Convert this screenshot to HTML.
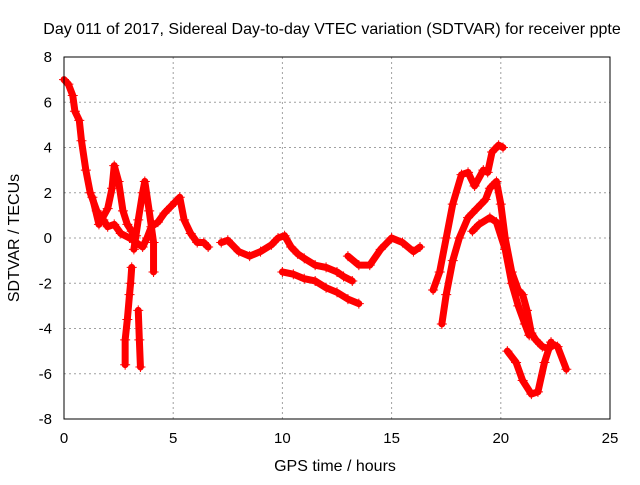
<!DOCTYPE html>
<html><head><meta charset="utf-8"><style>
body{margin:0;background:#fff}
svg text{font-family:"Liberation Sans",sans-serif;fill:#000}
</style></head><body>
<svg id="c" width="640" height="480" xmlns="http://www.w3.org/2000/svg">
<rect width="640" height="480" fill="#fff"/>
<text x="332" y="34" font-size="16" text-anchor="middle">Day 011 of 2017, Sidereal Day-to-day VTEC variation (SDTVAR) for receiver ppte</text>
<text x="335" y="471" font-size="16" text-anchor="middle">GPS time / hours</text>
<text x="19" y="238" font-size="16" text-anchor="middle" transform="rotate(-90 19 238)">SDTVAR / TECUs</text>
<g id="grid"></g><g id="marks"></g>
<rect x="64" y="57" width="546" height="362" fill="none" stroke="#000" stroke-width="1"/>
</svg>
<script>
const xTicks=[0,5,10,15,20,25];
const yTicks=[-8,-6,-4,-2,0,2,4,6,8];
const trackMain=[[0,7],[0.2,6.8],[0.4,6.3],[0.5,5.6],[0.7,5.2],[0.8,4.3],[1.0,3],[1.2,2],[1.5,1.2],[1.8,0.8],[2.0,0.5],[2.3,0.6],[2.6,0.2],[3.0,0],[3.3,-0.2],[3.6,-0.4],[3.8,0],[4.0,0.5],[4.3,0.7],[4.6,1.1],[4.9,1.4],[5.1,1.6],[5.3,1.8],[5.5,0.8],[5.8,0.2],[6.1,-0.2],[6.4,-0.2],[6.6,-0.4]];
const trackSpikeA=[[1.3,1.8],[1.6,0.6],[2.0,1.3],[2.2,2.2],[2.3,3.2],[2.5,2.5],[2.7,1.2],[2.9,0.6],[3.1,0.3],[3.3,0.1]];
const trackSpikeB=[[3.2,-0.5],[3.4,0.8],[3.6,2.0],[3.7,2.5],[3.9,1.2],[4.1,-0.2],[4.1,-1.5]];
const trackDropA=[[2.8,-5.6],[2.8,-4.5],[2.9,-3.6],[3.0,-2.5],[3.05,-2],[3.1,-1.3]];
const trackDropB=[[3.5,-5.7],[3.45,-4.5],[3.4,-3.2]];
const trackMid=[[7.2,-0.2],[7.5,-0.1],[8,-0.6],[8.5,-0.8],[9,-0.6],[9.5,-0.3],[9.8,0],[10.1,0.1],[10.4,-0.4],[10.7,-0.7],[11,-0.9],[11.5,-1.2],[12,-1.3],[12.5,-1.5],[12.8,-1.7],[13.2,-1.9]];
const trackMidLow=[[10,-1.5],[10.5,-1.6],[11,-1.8],[11.5,-1.9],[12,-2.2],[12.5,-2.4],[13,-2.7],[13.5,-2.9]];
const trackLate=[[13,-0.8],[13.5,-1.2],[14,-1.2],[14.5,-0.5],[15,0],[15.5,-0.2],[16,-0.6],[16.3,-0.4]];
const trackRiseA=[[16.9,-2.3],[17.2,-1.5],[17.5,0],[17.8,1.5],[18.2,2.8],[18.5,2.9],[18.8,2.3],[19.2,3],[19.4,2.9],[19.6,3.8],[19.9,4.1],[20.1,4.0]];
const trackRiseB=[[17.3,-3.8],[17.5,-2.5],[17.8,-1],[18.1,0],[18.5,0.9],[18.9,1.3],[19.3,1.7],[19.5,2.2],[19.8,2.5],[20.0,1.5],[20.2,0],[20.5,-1.5],[20.8,-2.3],[21.0,-2.5],[21.2,-3.2],[21.4,-4.2],[21.6,-4.5],[21.9,-4.8],[22.2,-4.9],[22.4,-4.7],[22.6,-4.8],[23,-5.8]];
const trackRiseC=[[18.7,0.3],[19.0,0.6],[19.5,0.9],[19.8,0.7],[20.2,-0.5],[20.5,-2],[20.8,-3],[21.1,-3.8],[21.3,-4.3]];
const trackDip=[[20.3,-5],[20.7,-5.5],[21,-6.3],[21.4,-6.9],[21.7,-6.8],[22,-5.5],[22.3,-4.6]];
const tracks=[trackMain,trackSpikeA,trackSpikeB,trackDropA,trackDropB,trackMid,trackMidLow,trackLate,trackRiseA,trackRiseB,trackRiseC,trackDip];
const NS="http://www.w3.org/2000/svg";
const X=t=>64+t*546/25, Y=v=>238-v*362/16;
const grid=document.getElementById('grid'), marks=document.getElementById('marks');
function mk(tag,attrs,parent){const e=document.createElementNS(NS,tag);for(const k in attrs)e.setAttribute(k,attrs[k]);parent.appendChild(e);return e;}
xTicks.forEach(t=>{
 const l=mk('line',{x1:X(t),x2:X(t),y1:57,y2:419,stroke:'#a0a0a0','stroke-dasharray':'2,3'},grid);
 
 
 const tx=mk('text',{x:X(t),y:443,'font-size':'15','text-anchor':'middle'},grid);tx.textContent=t;
 
 
});
yTicks.forEach(v=>{
 const l=mk('line',{x1:64,x2:610,y1:Y(v),y2:Y(v),stroke:'#a0a0a0','stroke-dasharray':'2,3'},grid);
 
 
 const tx=mk('text',{x:52,y:Y(v)+5,'font-size':'15','text-anchor':'end'},grid);tx.textContent=v;
 
 
});
tracks.forEach(tr=>{
 const p=mk('polyline',{points:tr.map(d=>X(d[0])+','+Y(d[1])).join(' '),fill:'none',stroke:'#f00','stroke-width':'7','stroke-linejoin':'round','stroke-linecap':'round'},marks);
 
 
 tr.forEach(d=>{
  const x=X(d[0]),y=Y(d[1]);
  const m=mk('path',{d:`M${x-5},${y}H${x+5}M${x},${y-5}V${y+5}`,stroke:'#f00','stroke-width':'1'},marks);
  
  
 });
});
</script>
</body></html>
